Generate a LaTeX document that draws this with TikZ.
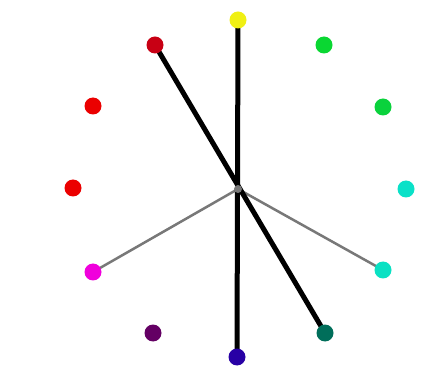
\documentclass[tikz,border=0pt]{standalone}
\usetikzlibrary{shapes.geometric}
\pgfdeclarelayer{bg}
\pgfsetlayers{bg,main}
\definecolor{cY}{RGB}{240,240,20}
\definecolor{cG1}{RGB}{10,215,50}
\definecolor{cG2}{RGB}{10,210,60}
\definecolor{cC1}{RGB}{10,225,200}
\definecolor{cC2}{RGB}{10,225,195}
\definecolor{cT}{RGB}{0,110,90}
\definecolor{cB}{RGB}{40,0,165}
\definecolor{cP}{RGB}{100,0,100}
\definecolor{cM}{RGB}{240,0,220}
\definecolor{cR1}{RGB}{235,0,0}
\definecolor{cR2}{RGB}{235,0,0}
\definecolor{cR3}{RGB}{200,0,20}
\definecolor{lineGray}{RGB}{120,120,120}
\tikzset{
  dot/.style={circle,inner sep=0pt,minimum size=17pt,fill=#1},
  thickline/.style={line width=5pt,black},
  thinline/.style={line width=2.5pt,lineGray}
}
\begin{document}
\begin{tikzpicture}[x=1pt,y=-1pt]
\useasboundingbox (0,0) rectangle (426,374);
\node[dot=cY]  (p90)  at (238,20) {};
\node[dot=cG1] (p60)  at (324,45) {};
\node[dot=cG2] (p30)  at (383,107) {};
\node[dot=cC1] (p0)   at (406,189) {};
\node[dot=cC2] (p330) at (383,270) {};
\node[dot=cT]  (p300) at (325,333) {};
\node[dot=cB]  (p270) at (237,357) {};
\node[dot=cP]  (p240) at (153,333) {};
\node[dot=cM]  (p210) at (93,272) {};
\node[dot=cR1] (p180) at (73,188) {};
\node[dot=cR2] (p150) at (93,106) {};
\node[dot=cR3] (p120) at (155,45) {};
\node[circle,inner sep=0pt,minimum size=8pt,fill=lineGray] (c) at (238,189) {};
\begin{pgfonlayer}{bg}
\fill[white] (0,0) rectangle (426,374);
\draw[thinline] (c.center) -- (p210.center);
\draw[thinline] (c.center) -- (p330.center);
\draw[thickline] (p90.center) -- (p270.center);
\draw[thickline] (p120.center) -- (p300.center);
\end{pgfonlayer}
\end{tikzpicture}
\end{document}
